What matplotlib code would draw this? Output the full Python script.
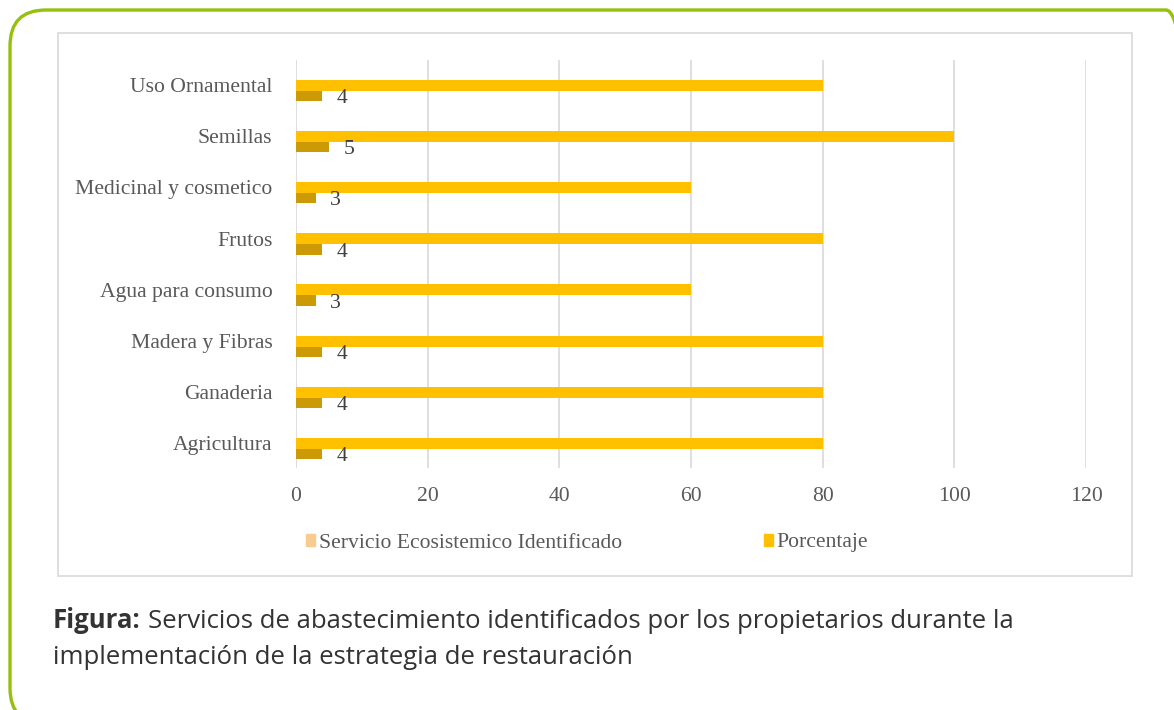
import numpy as np
import matplotlib.pyplot as plt
from matplotlib.patches import FancyBboxPatch, Rectangle, Patch
from matplotlib.transforms import IdentityTransform

# data
categorias = ['Agricultura', 'Ganaderia', 'Madera y Fibras', 'Agua para consumo',
              'Frutos', 'Medicinal y cosmetico', 'Semillas', 'Uso Ornamental']
servicio = [4, 4, 4, 3, 4, 3, 5, 4]
porcentaje = [80, 80, 80, 60, 80, 60, 100, 80]

c_porc = '#FFC000'
c_serv = '#CC9A06'
c_serv_leg = '#F8CB8F'
gris = '#595959'
fs = 15.6

plt.rcParams['font.family'] = ['Liberation Serif', 'DejaVu Serif']

fig = plt.figure(figsize=(11.74, 7.10), dpi=100)

# green rounded frame and grey chart box (pixel coords)
marco = FancyBboxPatch((10, -14), 1192, 714, boxstyle='round,pad=0,rounding_size=36',
                       transform=IdentityTransform(), fill=False, edgecolor='#97BF0D',
                       linewidth=2.4)
fig.patches.append(marco)
caja = Rectangle((58, 710 - 576), 1074, 543, transform=IdentityTransform(),
                 fill=False, edgecolor='#D9D9D9', linewidth=1.2)
fig.patches.append(caja)

ax = fig.add_axes([296 / 1174, 1 - 468 / 710, 790 / 1174, 408 / 710])
y = np.arange(len(categorias))
ax.barh(y, porcentaje, height=0.215, color=c_porc, zorder=3)
ax.barh(y - 0.21, servicio, height=0.2, color=c_serv, zorder=3)

for yi, v in zip(y, servicio):
    ax.annotate(str(v), (v, yi - 0.21), xytext=(10.5, -2), textcoords='offset points',
                ha='left', va='center', fontsize=fs, color='#404040')

ax.set_xlim(0, 120)
ax.set_ylim(-0.48, 7.49)
ax.set_xticks(np.arange(0, 121, 20))
ax.set_yticks(y)
ax.set_yticklabels(categorias)
ax.tick_params(axis='x', length=0, pad=14, labelsize=fs, labelcolor=gris)
ax.tick_params(axis='y', length=0, pad=17, labelsize=fs, labelcolor=gris)
ax.grid(axis='x', color='#D9D9D9', linewidth=1.2, zorder=0)
for s in ax.spines.values():
    s.set_visible(False)

handles = [Patch(color=c_serv_leg), Patch(color=c_porc)]
fig.legend(handles, ['Servicio Ecosistemico Identificado', 'Porcentaje'],
           loc='center left', bbox_to_anchor=(297 / 1174, 1 - 543 / 710), ncol=2,
           frameon=False, fontsize=fs, handlelength=0.45, handleheight=0.45,
           handletextpad=0.15, columnspacing=6.55, labelcolor=gris, borderaxespad=0)

# caption
cap_fs = 18.5
t1 = fig.text(53 / 1174, 1 - 621 / 710, 'Figura:', family='Open Sans', weight='bold',
              fontsize=cap_fs, color='#333333', va='center')
r = fig.canvas.get_renderer()
x_end = t1.get_window_extent(r).x1
fig.text((x_end + 7) / 1174, 1 - 621 / 710,
         'Servicios de abastecimiento identificados por los propietarios durante la',
         family='Open Sans', fontsize=cap_fs, color='#333333', va='center')
fig.text(53 / 1174, 1 - 657 / 710, 'implementación de la estrategia de restauración',
         family='Open Sans', fontsize=cap_fs, color='#333333', va='center')

plt.savefig('out.png', dpi=100)
